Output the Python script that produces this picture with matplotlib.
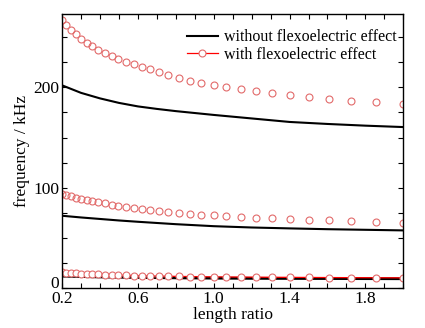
import numpy as np
import matplotlib
matplotlib.use("Agg")
import matplotlib.pyplot as plt
import matplotlib.transforms as mtransforms

plt.rcParams['font.family'] = ['Liberation Serif', 'DejaVu Serif']
plt.rcParams['mathtext.fontset'] = 'stix'

ratio_flexo = [0.200, 0.223, 0.246, 0.272, 0.300, 0.330, 0.360, 0.392, 0.425, 0.461,
               0.497, 0.536, 0.577, 0.620, 0.666, 0.712, 0.761, 0.817, 0.877, 0.935,
               0.999, 1.067, 1.143, 1.222, 1.308, 1.401, 1.500, 1.608, 1.726, 1.856, 2.0]

# with flexoelectric effect, three modes (kHz)
f3_flexo = [267.5, 262.0, 257.5, 253.0, 248.5, 244.5, 241.0, 237.5, 234.0, 231.0,
            228.0, 225.5, 223.0, 220.5, 218.0, 215.0, 212.5, 209.5, 206.5, 204.0,
            202.0, 200.0, 198.0, 196.0, 194.0, 192.0, 190.3, 188.5, 186.7, 185.0, 183.4]
f2_flexo = [94.0, 92.5, 91.2, 90.0, 88.8, 87.6, 86.5, 85.4, 84.3, 83.2,
            82.1, 81.0, 80.0, 78.9, 77.8, 76.8, 75.7, 74.8, 74.0, 73.2,
            72.4, 71.6, 70.9, 70.1, 69.4, 68.7, 68.0, 67.3, 66.6, 65.8, 65.1]
f1_flexo = [15.5, 15.2, 14.9, 14.6, 14.3, 14.0, 13.7, 13.5, 13.2, 13.0,
            12.8, 12.6, 12.4, 12.2, 12.0, 11.8, 11.7, 11.5, 11.4, 11.2,
            11.1, 11.0, 10.9, 10.8, 10.7, 10.6, 10.5, 10.4, 10.3, 10.2, 10.1]

# without flexoelectric effect (kHz)
ratio_plain = [0.2, 0.3, 0.4, 0.5, 0.6, 0.7, 0.8, 1.0, 1.2, 1.4, 1.6, 1.8, 2.0]
f3_plain = [202.0, 194.5, 189.0, 184.5, 181.0, 178.5, 176.3, 172.5, 169.0, 165.5, 163.5, 161.8, 160.4]
f2_plain = [72.0, 70.3, 68.8, 67.3, 66.0, 64.8, 63.6, 61.6, 60.3, 59.4, 58.6, 58.0, 57.4]
f1_plain = [11.8, 11.4, 11.0, 10.7, 10.5, 10.3, 10.1, 9.8, 9.6, 9.5, 9.4, 9.3, 9.2]

red = '#e26a6a'

fig = plt.figure(figsize=(4.25, 3.28), dpi=100)
ax = fig.add_axes([0.146, 0.122, 0.803, 0.835])

ax.plot(ratio_plain, f3_plain, color='black', lw=1.5, label='without flexoelectric effect')
ax.plot(ratio_plain, f2_plain, color='black', lw=1.5)
ax.plot(ratio_plain, f1_plain, color='black', lw=2.0)

ax.plot(ratio_flexo, f3_flexo, ls='none', marker='o', ms=5, mfc='none', mec=red, mew=0.8)
ax.plot(ratio_flexo, f2_flexo, ls='none', marker='o', ms=5, mfc='none', mec=red, mew=0.8)
ax.plot(ratio_flexo, f1_flexo, color='red', lw=0.9, marker='o', ms=5, mfc='white', mec=red, mew=0.8,
        label='with flexoelectric effect')

ax.set_xlim(0.2, 2.0)
ax.set_ylim(0, 273)
ax.set_xticks([0.2, 0.6, 1.0, 1.4, 1.8])
ax.set_xticks(np.arange(0.2, 2.01, 0.1), minor=True)
ax.set_yticks([0, 100, 200])
ax.set_yticks(np.arange(0, 273, 25), minor=True)
ax.tick_params(which='both', direction='in', top=True, right=True, length=3.5, width=0.8,
               labelsize=12.5, pad=2)
for s in ax.spines.values():
    s.set_linewidth(1.0)

# the "0" label sits a little above its tick, clear of "0.2"
fig.canvas.draw()
zero_lbl = ax.get_yticklabels()[0]
zero_lbl.set_transform(zero_lbl.get_transform() +
                       mtransforms.ScaledTranslation(0, 6 / 100, fig.dpi_scale_trans))

ax.set_xlabel('length ratio', fontsize=12.5, labelpad=0)
ax.set_ylabel('frequency / kHz', fontsize=12.5, labelpad=2)

leg = ax.legend(loc='upper right', bbox_to_anchor=(1.025, 1.0), fontsize=11.5, frameon=False,
                handlelength=2.0, handletextpad=0.35, labelspacing=0.1, borderaxespad=0.55)

fig.savefig('out.png', dpi=100)
